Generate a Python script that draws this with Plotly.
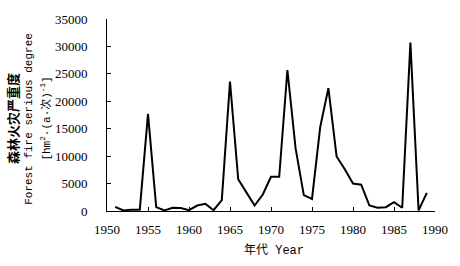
import plotly.graph_objects as go

years = list(range(1951, 1990))
severity = [750, 100, 250, 250, 17700, 700, 100, 600, 550, 150,
            1000, 1300, 150, 2000, 23600, 5800, 3400, 1000, 3000, 6250,
            6250, 25700, 11400, 2900, 2200, 15300, 22400, 9950, 7600, 5000,
            4800, 1000, 600, 700, 1600, 600, 30700, 100, 3300]

x_ticks = [1950, 1955, 1960, 1965, 1970, 1975, 1980, 1985, 1990]
y_ticks = [0, 5000, 10000, 15000, 20000, 25000, 30000, 35000]
y_tick_labels = [str(v) for v in y_ticks]

serif = "Liberation Serif"
mono = "Liberation Mono, Noto Sans CJK SC"

fig = go.Figure()
fig.add_trace(go.Scatter(x=years, y=severity, mode="lines",
                         line=dict(color="black", width=2), showlegend=False))

fig.update_layout(
    width=460, height=266,
    margin=dict(l=107, r=21, t=15, b=55),
    paper_bgcolor="white", plot_bgcolor="white",
    xaxis=dict(range=[1950, 1990], tickvals=x_ticks, ticks="inside", ticklen=4,
               tickcolor="black", showline=True, linecolor="black", linewidth=1,
               showgrid=False, zeroline=False,
               tickfont=dict(family=serif, size=13, color="black"),
               ticklabelstandoff=6),
    yaxis=dict(range=[0, 35000], tickvals=y_ticks, ticktext=y_tick_labels,
               ticks="inside", ticklen=4,
               tickcolor="black", showline=True, linecolor="black", linewidth=1,
               showgrid=False, zeroline=False,
               tickfont=dict(family=serif, size=13, color="black"),
               ticklabelstandoff=16),
)

fig.add_annotation(text="年代 Year", xref="paper", yref="paper", x=0.51, y=-0.204,
                   yanchor="middle", showarrow=False,
                   font=dict(family=mono, size=12, color="black"))
fig.add_annotation(text="<b>森林火灾严重度</b>", xref="paper", yref="paper",
                   x=-95/332, y=0.48, xanchor="center", yanchor="middle",
                   textangle=-90, showarrow=False,
                   font=dict(family="Noto Sans CJK SC", size=13, color="black"))
fig.add_annotation(text="Forest fire serious degree", xref="paper", yref="paper",
                   x=-79/332, y=0.48, xanchor="center", yanchor="middle",
                   textangle=-90, showarrow=False,
                   font=dict(family=mono, size=11, color="black"))
fig.add_annotation(text="[hm<sup>2</sup>·(a·次)<sup>-1</sup>]", xref="paper", yref="paper",
                   x=-62/332, y=0.48, xanchor="center", yanchor="middle",
                   textangle=-90, showarrow=False,
                   font=dict(family=mono, size=11, color="black"))

fig.write_html("out.html", config={"displayModeBar": False},
               post_script="document.body.style.margin='0';")
